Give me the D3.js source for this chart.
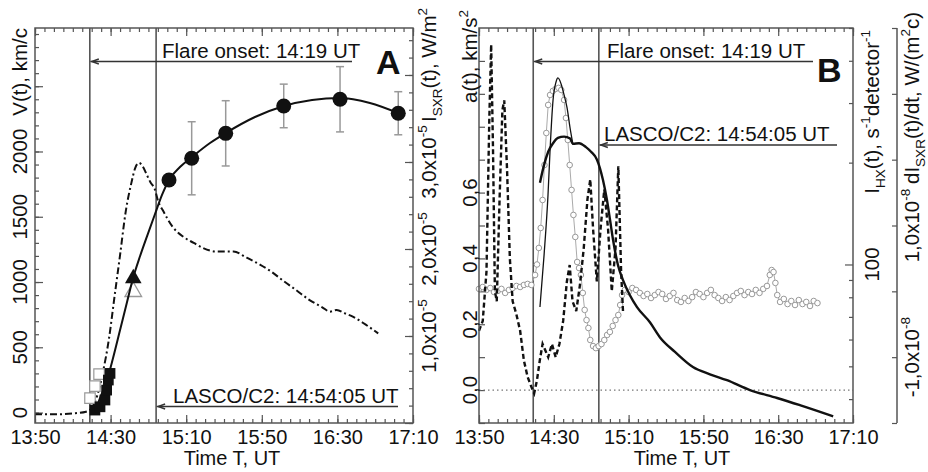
<!DOCTYPE html>
<html>
<head>
<meta charset="utf-8">
<script src="https://cdn.jsdelivr.net/npm/d3@7"></script>
<style>
  body { margin: 0; background: #fff; }
  svg { display: block; font-family: "Liberation Sans", Arial, sans-serif; }
  .frame { fill: none; stroke: #555; stroke-width: 1.5; }
  .tick line { stroke: #555; stroke-width: 1.2; }
</style>
</head>
<body>
<script>
// all times are minutes after 13:50 UT
const timeTicks = [0, 40, 80, 120, 160, 200];
const flareOnset = 29;       // 14:19 UT
const lascoFirst = 64.08;    // 14:54:05 UT

// ---- panel A: CME speed (km/s) and GOES SXR flux (1e-5 W/m2)
const vTimes  = [70.9, 82.9, 100.9, 131.6, 161.4, 192.2];
const vSpeeds = [1782, 1948, 2139, 2349, 2400, 2293];
const vErrors = [0, 280, 250, 167, 250, 165];

const sqTimes  = [31.7, 34.4, 37.0, 37.9, 38.8, 39.7];
const sqSpeeds = [19, 44, 96, 172, 249, 300];
const sqOpenTimes  = [29.1, 31.7, 33.9];
const sqOpenSpeeds = [111, 203, 295];

const triTimes = [52];
const triSpeeds = [1028];
const triOpenSpeeds = [926];

const fitTimes  = [31.7, 34.4, 37.6, 41.3, 45, 48.7, 51.9, 55.6, 59.3, 63.5, 67.2, 70.9, 76.7, 83.1, 92.6, 101, 116.4, 131.7, 146.6, 161.4, 177.2, 192.1];
const fitSpeeds = [4, 111, 226, 418, 632, 847, 1031, 1199, 1352, 1521, 1667, 1782, 1881, 1958, 2065, 2142, 2264, 2349, 2395, 2410, 2372, 2295];

const sxrTimes = [0, 10, 20, 27, 30, 33, 36, 39, 42, 45, 48, 51, 53, 55, 57, 59, 61, 63.5, 65, 68, 73, 78.5, 84, 89, 96, 105, 112, 119, 125, 131, 138, 145.5, 152, 156, 159.6, 164, 168.4, 175, 181.6];
const sxrFlux  = [0.10, 0.10, 0.11, 0.13, 0.17, 0.32, 0.59, 0.95, 1.44, 1.93, 2.43, 2.76, 2.93, 2.99, 2.95, 2.86, 2.77, 2.68, 2.56, 2.43, 2.25, 2.14, 2.07, 2.01, 1.97, 1.97, 1.90, 1.82, 1.74, 1.64, 1.53, 1.41, 1.33, 1.28, 1.30, 1.26, 1.22, 1.13, 1.03];

// ---- panel B: acceleration (km/s2), HXR counts, dI_SXR/dt (1e-8 W/(m2 s))
const accTimes  = [0, 2, 4, 5.5, 6.5, 7.5, 8.5, 9.5, 11, 12.5, 13.5, 15, 16.5, 18, 20, 22, 24, 26, 28, 29.5, 31, 32.5, 34, 35.5, 37, 39, 41, 43, 45, 47, 48.5, 50, 52, 54, 56, 58, 59.5, 61, 63, 65, 67, 69, 71, 73, 74.5, 76, 77];
const accValues = [0.18, 0.21, 0.36, 0.82, 1.05, 0.73, 0.30, 0.27, 0.58, 0.85, 0.88, 0.67, 0.40, 0.27, 0.23, 0.18, 0.09, 0.04, 0.01, -0.01, 0.03, 0.09, 0.14, 0.12, 0.10, 0.14, 0.10, 0.14, 0.21, 0.33, 0.38, 0.27, 0.24, 0.32, 0.43, 0.58, 0.64, 0.49, 0.33, 0.49, 0.61, 0.49, 0.30, 0.43, 0.68, 0.36, 0.24];

const hxTimes  = [0, 2, 4, 6, 8, 10, 12, 14, 16, 18, 20, 22, 24, 26, 28, 30, 31, 32, 33, 34, 35, 36, 37, 38, 39.5, 41, 42.5, 44, 45.5, 46.5, 47.5, 48.5, 49.5, 50.5, 51.5, 52.5, 53.5, 54.5, 55.5, 56.5, 57.5, 58.5, 59.5, 61, 62.5, 64, 65.5, 67, 68.5, 70, 71.5, 73, 74.5, 75.5, 76.5, 78, 80, 82, 84, 86, 88, 90, 92, 94, 96, 98, 100, 102, 104, 106, 108, 110, 112, 114, 116, 118, 120, 122, 124, 126, 128, 130, 132, 134, 136, 138, 140, 142, 144, 146, 148, 150, 152, 154, 155.5, 156.5, 157.5, 158.5, 159.5, 161, 163, 165, 167, 169, 171, 173, 175, 177, 179, 181];
const hxCounts = [84.7, 85.8, 84.1, 85.2, 82.9, 83.5, 84.7, 82.4, 84.1, 85.2, 86.4, 85.8, 87.0, 87.6, 87.0, 93.1, 100, 111.9, 128.2, 155.1, 196.8, 244.7, 296.2, 317, 325.8, 330.4, 332.7, 328, 306.4, 271, 233.3, 196.8, 166.1, 140.1, 120.6, 101.7, 97.6, 93.1, 82.4, 73.4, 68.5, 64.9, 59.8, 57.4, 56.6, 57.4, 58.2, 59.8, 61.9, 63.2, 65.8, 68.5, 70.9, 75.9, 81.2, 84.1, 82.9, 85.2, 84.1, 82.4, 80.7, 81.8, 79.6, 81.2, 82.9, 81.8, 79.1, 80.7, 82.4, 78.5, 77.5, 79.6, 78.0, 80.1, 82.9, 81.8, 80.1, 82.4, 84.1, 81.2, 79.6, 78.0, 80.1, 78.5, 80.7, 82.4, 83.5, 81.2, 82.9, 81.8, 84.1, 82.4, 84.7, 86.4, 93.1, 96.3, 95.0, 88.2, 81.2, 77.5, 79.1, 76.4, 78.0, 75.9, 78.5, 76.4, 77.5, 75.4, 78.0, 76.9];

const hx2Times  = [32.6, 34.8, 36.9, 38.0, 39.6, 41.2, 42.2, 43.9, 45.5, 47.1, 48.7, 50.3];
const hx2Counts = [74.9, 106.7, 160.5, 218, 306.4, 346.3, 355.9, 341.7, 317, 290.2, 253.2, 225.5];

const dsxrTimes  = [32.6, 34.8, 37, 39.6, 42.2, 45.5, 48.7, 50.3, 53.5, 57.2, 59.9, 63.1, 66.3, 68.4, 70.1, 71.7, 74.3, 77, 80.7, 84.5, 91.4, 96.8, 104.8, 114.4, 123.5, 132.6, 144.9, 159.4, 171.7, 182.4, 189.4];
const dsxrValues = [1.65, 1.92, 2.12, 2.25, 2.33, 2.35, 2.32, 2.24, 2.25, 2.19, 2.12, 2.00, 1.69, 1.39, 1.08, 0.78, 0.40, 0.17, -0.06, -0.24, -0.47, -0.70, -0.92, -1.15, -1.26, -1.35, -1.50, -1.62, -1.73, -1.83, -1.90];

// ---------------------------------------------------------------
const W = 928, H = 472, yTop = 28, yBot = 423;
const FS = 20.5, FX = 20;

const svg = d3.select("body").append("svg").attr("width", W).attr("height", H);

const xA = d3.scaleLinear().domain([0, 200]).range([35, 413]);
const xB = d3.scaleLinear().domain([0, 200]).range([479, 853]);
const yV = d3.scaleLinear().domain([-80, 2946]).range([yBot, yTop]);
const yS = d3.scaleLinear().domain([0, 4.54]).range([yBot, yTop]);
const yAcc = d3.scaleLinear().domain([-0.1, 1.1]).range([yBot, yTop]);
const yHX = d3.scaleLog().domain([34, 500]).range([yBot, yTop]);
const yD = d3.scaleLinear().domain([-2, 4]).range([yBot, yTop]);

const fmtTime = m => {
  const t = 13 * 60 + 50 + m;
  return Math.floor(t / 60) + ":" + String(t % 60).padStart(2, "0");
};
const comma = v => d3.format(".1f")(v).replace(".", ",").replace("−", "-");

// text with sub/superscript parts
function rich(text, parts, size) {
  let shift = 0;
  parts.forEach(([s, k]) => {
    const target = k === "sup" ? -0.42 * size : k === "sub" ? 0.3 * size : 0;
    text.append("tspan")
      .attr("dy", target - shift)
      .style("font-size", (k ? size * 0.66 : size) + "px")
      .text(s);
    shift = target;
  });
  return text;
}

function vText(x, y, parts, anchor) {
  const t = svg.append("text")
    .attr("transform", `translate(${x},${y}) rotate(-90)`)
    .attr("text-anchor", anchor)
    .attr("fill", "#111");
  return rich(t, parts, FS);
}

function clean(g) {
  g.select(".domain").remove();
  g.attr("font-family", null).attr("font-size", null);
}

function timeAxes(x) {
  svg.append("g").attr("transform", `translate(0,${yBot})`)
    .call(d3.axisBottom(x).tickValues(d3.range(0, 201, 5)).tickSizeInner(-4).tickSizeOuter(0).tickFormat(""))
    .call(clean);
  svg.append("g").attr("transform", `translate(0,${yBot})`)
    .call(d3.axisBottom(x).tickValues(timeTicks).tickSizeInner(-8).tickSizeOuter(0).tickPadding(7).tickFormat(fmtTime))
    .call(clean)
    .selectAll("text").style("font-size", FX + "px").attr("fill", "#111");
  svg.append("g").attr("transform", `translate(0,${yTop})`)
    .call(d3.axisTop(x).tickValues(d3.range(0, 201, 5)).tickSizeInner(-4).tickSizeOuter(0).tickFormat(""))
    .call(clean);
  svg.append("g").attr("transform", `translate(0,${yTop})`)
    .call(d3.axisTop(x).tickValues(timeTicks).tickSizeInner(-8).tickSizeOuter(0).tickFormat(""))
    .call(clean);
}

function yTicks(axisFn, scale, xPos, values, size) {
  svg.append("g").attr("transform", `translate(${xPos},0)`)
    .call(axisFn(scale).tickValues(values).tickSizeInner(size).tickSizeOuter(0).tickFormat(""))
    .call(clean);
}

function arrowLine(x1, x2, y) {
  svg.append("line").attr("x1", x1 + 1).attr("x2", x2).attr("y1", y).attr("y2", y)
    .attr("stroke", "#333").attr("stroke-width", 1.6);
  svg.append("path")
    .attr("d", `M${x1 + 9},${y - 2.5} L${x1 + 2},${y} L${x1 + 9},${y + 2.5}`)
    .attr("fill", "none").attr("stroke", "#333").attr("stroke-width", 1.4);
}

function label(x, y, str, size, weight) {
  svg.append("text").attr("x", x).attr("y", y).attr("fill", "#111")
    .style("font-size", size + "px").style("font-weight", weight || "normal").text(str);
}

// ================= PANEL A =================
timeAxes(xA);
yTicks(d3.axisLeft, yV, 35, d3.range(0, 2901, 100), -4);
yTicks(d3.axisLeft, yV, 35, d3.range(0, 2501, 500), -8);
yTicks(d3.axisRight, yS, 413, d3.range(0, 4.5, 0.2), -4);
yTicks(d3.axisRight, yS, 413, [0, 1, 2, 3, 4], -8);

// event lines
[flareOnset, lascoFirst].forEach(t => {
  svg.append("line").attr("x1", xA(t)).attr("x2", xA(t)).attr("y1", yTop).attr("y2", yBot)
    .attr("stroke", "#555").attr("stroke-width", 1.6);
});

// SXR flux, dash-dot
svg.append("path")
  .attr("d", d3.line().x(d => xA(d)).y((d, i) => yS(sxrFlux[i])).curve(d3.curveMonotoneX)(sxrTimes))
  .attr("fill", "none").attr("stroke", "#111").attr("stroke-width", 2)
  .attr("stroke-dasharray", "7,3,2,3");

// error bars
vTimes.forEach((t, i) => {
  if (!vErrors[i]) return;
  const x = xA(t), y1 = yV(vSpeeds[i] - vErrors[i]), y2 = yV(vSpeeds[i] + vErrors[i]);
  const g = svg.append("g").attr("stroke", "#999").attr("stroke-width", 1.5);
  g.append("line").attr("x1", x).attr("x2", x).attr("y1", y1).attr("y2", y2);
  g.append("line").attr("x1", x - 4).attr("x2", x + 4).attr("y1", y1).attr("y2", y1);
  g.append("line").attr("x1", x - 4).attr("x2", x + 4).attr("y1", y2).attr("y2", y2);
});

// open markers behind
sqOpenTimes.forEach((t, i) => {
  svg.append("path").attr("transform", `translate(${xA(t)},${yV(sqOpenSpeeds[i])})`)
    .attr("d", d3.symbol(d3.symbolSquare, 110)()).attr("fill", "#fff").attr("stroke", "#999").attr("stroke-width", 1.2);
});
triTimes.forEach((t, i) => {
  svg.append("path").attr("transform", `translate(${xA(t)},${yV(triOpenSpeeds[i])})`)
    .attr("d", d3.symbol(d3.symbolTriangle, 120)()).attr("fill", "none").attr("stroke", "#999").attr("stroke-width", 1.3);
});

// fit curve
svg.append("path")
  .attr("d", d3.line().x(d => xA(d)).y((d, i) => yV(fitSpeeds[i])).curve(d3.curveMonotoneX)(fitTimes))
  .attr("fill", "none").attr("stroke", "#111").attr("stroke-width", 2);

sqTimes.forEach((t, i) => {
  svg.append("path").attr("transform", `translate(${xA(t)},${yV(sqSpeeds[i])})`)
    .attr("d", d3.symbol(d3.symbolSquare, 115)()).attr("fill", "#111");
});
triTimes.forEach((t, i) => {
  svg.append("path").attr("transform", `translate(${xA(t)},${yV(triSpeeds[i])})`)
    .attr("d", d3.symbol(d3.symbolTriangle, 120)()).attr("fill", "#111");
});
vTimes.forEach((t, i) => {
  svg.append("circle").attr("cx", xA(t)).attr("cy", yV(vSpeeds[i])).attr("r", 7.5).attr("fill", "#111");
});

svg.append("rect").attr("class", "frame").attr("x", 35).attr("y", yTop).attr("width", 378).attr("height", yBot - yTop);

arrowLine(xA(flareOnset), 352, 61.5);
label(162, 58, "Flare onset: 14:19 UT", FS);
arrowLine(xA(lascoFirst), 398, 406.5);
label(173, 403, "LASCO/C2: 14:54:05 UT", FS);
label(376, 74, "A", 34, "bold");

// left axis labels
[0, 500, 1000, 1500, 2000].forEach(v => vText(27, yV(v), [[String(v), ""]], "middle"));
vText(27, yTop, [["V(t), km/c", ""]], "end");
// right axis labels
[1, 2, 3].forEach(v => vText(436, yS(v), [[comma(v) + "x10", ""], ["-5", "sup"]], "middle"));
vText(436, 8, [["I", ""], ["SXR", "sub"], ["(t), W/m", ""], ["2", "sup"]], "end");

svg.append("text").attr("x", 232).attr("y", 465).attr("text-anchor", "middle").attr("fill", "#111")
  .style("font-size", FX + "px").text("Time T, UT");

// ================= PANEL B =================
timeAxes(xB);
yTicks(d3.axisLeft, yAcc, 479, d3.range(-0.1, 1.05, 0.1), -6);
yTicks(d3.axisRight, yHX, 853, [40, 50, 60, 70, 80, 90, 200, 300, 400, 500], -4);
yTicks(d3.axisRight, yHX, 853, [100], -8);

// separate dI/dt axis
svg.append("line").attr("x1", 897).attr("x2", 897).attr("y1", yTop).attr("y2", yBot)
  .attr("stroke", "#555").attr("stroke-width", 1.5);
yTicks(d3.axisLeft, yD, 897, [-2, -1, 0, 1, 2, 3, 4], 5);

// zero line for a(t)
svg.append("line").attr("x1", 479).attr("x2", 853).attr("y1", yAcc(0)).attr("y2", yAcc(0))
  .attr("stroke", "#777").attr("stroke-width", 1.2).attr("stroke-dasharray", "1.5,3");

[flareOnset, lascoFirst].forEach(t => {
  svg.append("line").attr("x1", xB(t)).attr("x2", xB(t)).attr("y1", yTop).attr("y2", yBot)
    .attr("stroke", "#555").attr("stroke-width", 1.6);
});

// HXR counts: grey open circles
svg.append("path")
  .attr("d", d3.line().x(d => xB(d)).y((d, i) => yHX(hxCounts[i]))(hxTimes))
  .attr("fill", "none").attr("stroke", "#aaa").attr("stroke-width", 1);
hxTimes.forEach((t, i) => {
  svg.append("circle").attr("cx", xB(t)).attr("cy", yHX(hxCounts[i])).attr("r", 2.8)
    .attr("fill", "#fff").attr("stroke", "#999").attr("stroke-width", 1);
});

// thin black HXR trace at the peak
svg.append("path")
  .attr("d", d3.line().x(d => xB(d)).y((d, i) => yHX(hx2Counts[i])).curve(d3.curveMonotoneX)(hx2Times))
  .attr("fill", "none").attr("stroke", "#111").attr("stroke-width", 1.3);

// acceleration, dashed
svg.append("path")
  .attr("d", d3.line().x(d => xB(d)).y((d, i) => yAcc(accValues[i]))(accTimes))
  .attr("fill", "none").attr("stroke", "#111").attr("stroke-width", 2.4)
  .attr("stroke-dasharray", "5,3");

// dI_SXR/dt, solid
svg.append("path")
  .attr("d", d3.line().x(d => xB(d)).y((d, i) => yD(dsxrValues[i])).curve(d3.curveMonotoneX)(dsxrTimes))
  .attr("fill", "none").attr("stroke", "#111").attr("stroke-width", 2.4);

svg.append("rect").attr("class", "frame").attr("x", 479).attr("y", yTop).attr("width", 374).attr("height", yBot - yTop);

arrowLine(xB(flareOnset), 813, 61.5);
label(607, 58, "Flare onset: 14:19 UT", FS);
arrowLine(xB(lascoFirst), 837, 145);
label(604, 141, "LASCO/C2: 14:54:05 UT", FS);
label(817, 82, "B", 34, "bold");

[0, 0.2, 0.4, 0.6].forEach(v => vText(477, yAcc(v), [[comma(v), ""]], "middle"));
vText(477, 10, [["a(t), km/s", ""], ["2", "sup"]], "end");

vText(879, yHX(100), [["100", ""]], "middle");
vText(879, 30, [["I", ""], ["HX", "sub"], ["(t), s", ""], ["-1", "sup"], ["detector", ""], ["-1", "sup"]], "end");

[1, -1].forEach(v => vText(919, yD(v), [[comma(v) + "x10", ""], ["-8", "sup"]], "middle"));
vText(919, 12, [["dI", ""], ["SXR", "sub"], ["(t)/dt, W/(m", ""], ["2", "sup"], ["c)", ""]], "end");

svg.append("text").attr("x", 682).attr("y", 465).attr("text-anchor", "middle").attr("fill", "#111")
  .style("font-size", FX + "px").text("Time T, UT");
</script>
</body>
</html>
